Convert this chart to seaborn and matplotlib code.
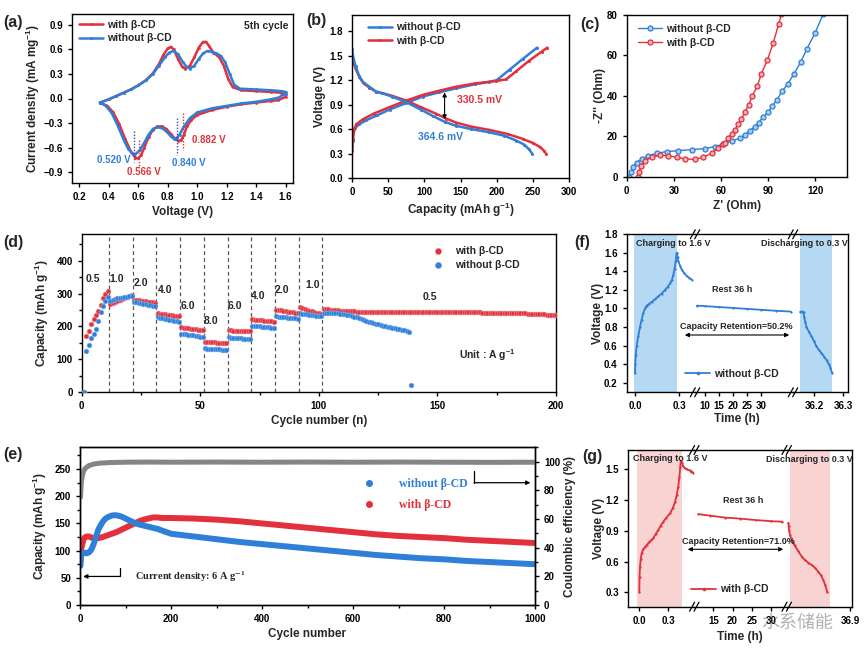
import numpy as np
import pandas as pd
import matplotlib
matplotlib.use("Agg")
import matplotlib.pyplot as plt
import seaborn as sns
from matplotlib.lines import Line2D
from matplotlib.ticker import MultipleLocator

# ------------------------------------------------------------------ data
# (a) CV curves, 5th cycle
cv_with_up_V = [0.34,0.40,0.45,0.50,0.55,0.60,0.65,0.70,0.74,0.77,0.80,0.82,0.84,0.87,0.90,0.92,0.95,0.98,1.01,1.04,1.06,1.08,1.11,1.15,1.18,1.21,1.24,1.30,1.40,1.50,1.57,1.60]
cv_with_up_I = [-0.05,-0.01,0.03,0.07,0.11,0.16,0.22,0.31,0.42,0.53,0.61,0.63,0.60,0.48,0.38,0.365,0.40,0.50,0.62,0.69,0.69,0.64,0.56,0.50,0.40,0.24,0.14,0.10,0.09,0.08,0.07,0.06]
cv_with_dn_V = [1.60,1.55,1.50,1.40,1.30,1.20,1.10,1.00,0.96,0.93,0.91,0.89,0.87,0.85,0.82,0.79,0.76,0.73,0.70,0.67,0.64,0.62,0.60,0.58,0.55,0.51,0.47,0.43,0.39,0.34]
cv_with_dn_I = [0.02,-0.02,-0.03,-0.05,-0.07,-0.10,-0.14,-0.20,-0.26,-0.34,-0.44,-0.51,-0.515,-0.49,-0.43,-0.37,-0.34,-0.34,-0.38,-0.47,-0.60,-0.69,-0.73,-0.72,-0.65,-0.49,-0.31,-0.17,-0.09,-0.05]
cv_wo_up_V = [0.34,0.40,0.45,0.50,0.55,0.60,0.65,0.70,0.74,0.78,0.81,0.84,0.87,0.90,0.93,0.95,0.98,1.01,1.04,1.07,1.10,1.13,1.16,1.19,1.22,1.25,1.29,1.40,1.50,1.57,1.60]
cv_wo_up_I = [-0.05,-0.01,0.03,0.07,0.11,0.16,0.22,0.30,0.40,0.50,0.56,0.58,0.54,0.45,0.38,0.365,0.40,0.48,0.55,0.58,0.57,0.55,0.52,0.44,0.30,0.17,0.12,0.11,0.10,0.09,0.08]
cv_wo_dn_V = [1.60,1.55,1.50,1.40,1.30,1.20,1.10,1.00,0.95,0.91,0.88,0.86,0.84,0.82,0.79,0.76,0.73,0.70,0.67,0.64,0.61,0.58,0.56,0.53,0.50,0.46,0.42,0.38,0.34]
cv_wo_dn_I = [0.06,0.01,-0.01,-0.04,-0.06,-0.09,-0.12,-0.17,-0.24,-0.34,-0.44,-0.485,-0.49,-0.46,-0.40,-0.36,-0.35,-0.37,-0.44,-0.54,-0.63,-0.68,-0.67,-0.61,-0.50,-0.33,-0.18,-0.09,-0.05]
peak_marks_V = [0.569, 0.603, 0.864, 0.905]          # dotted guide positions
peak_marks_top = [-0.40, -0.50, -0.24, -0.18]
peak_marks_bot = [-0.78, -0.85, -0.69, -0.63]
peak_labels = ["0.520 V", "0.566 V", "0.840 V", "0.882 V"]

# (b) charge / discharge
gcd_wo_ch_C = [0,1,2,4,10,20,35,52,75,98,120,144,170,190,200,218,236,256]
gcd_wo_ch_V = [0.33,0.45,0.55,0.61,0.66,0.71,0.77,0.84,0.92,1.00,1.05,1.10,1.15,1.18,1.20,1.33,1.46,1.60]
gcd_w_ch_C = [0,1,3,6,15,30,52,75,98,120,144,170,199,213,227,245,262,270]
gcd_w_ch_V = [0.33,0.48,0.60,0.66,0.72,0.79,0.87,0.95,1.02,1.07,1.12,1.16,1.19,1.21,1.31,1.44,1.55,1.60]
gcd_wo_dc_C = [0,2,5,10,16,24,33,42,55,75,95,112,128,144,165,190,210,227,238,245,249]
gcd_wo_dc_V = [1.58,1.47,1.37,1.25,1.17,1.12,1.06,1.04,1.00,0.93,0.84,0.76,0.69,0.64,0.60,0.56,0.52,0.46,0.41,0.35,0.30]
gcd_w_dc_C = [0,2,5,10,16,24,33,42,55,75,95,116,130,144,165,190,215,236,250,260,266,268]
gcd_w_dc_V = [1.50,1.42,1.34,1.24,1.16,1.11,1.06,1.04,1.01,0.95,0.87,0.79,0.73,0.68,0.63,0.59,0.54,0.48,0.43,0.38,0.33,0.30]

# (c) EIS Nyquist
eis_wo_re = [1.7,2.8,4.2,6.3,9.5,13.8,19.0,25.4,32.8,41.3,49.7,56.1,61.4,66.7,72.0,75.1,78.3,81.5,84.0,86.8,90.0,92.5,95.7,98.8,102.6,106.5,110.7,114.7,120.0,124.9]
eis_wo_im = [0,2.5,5.0,7.0,8.8,10.4,11.6,12.4,12.9,13.4,13.9,14.9,16.2,17.7,19.0,20.7,22.7,24.8,26.8,29.5,32.0,34.8,38.1,42.2,46.0,51.0,56.6,63.3,71.3,80.3]
eis_w_re = [7.0,7.8,9.1,11.6,15.9,21.2,26.5,31.7,37.0,43.4,48.7,54.0,58.2,61.4,62.4,64.6,66.7,68.8,70.9,73.0,75.1,77.7,80.0,83.2,85.7,89.5,93.1,96.7,98.4]
eis_w_im = [0,2.5,5.5,8.0,9.9,10.6,10.4,9.6,8.8,8.6,9.6,11.6,14.1,16.2,16.9,19.0,21.0,23.2,26.0,28.5,31.8,35.6,40.1,45.0,51.0,57.6,65.9,75.4,80.3]

# (d) rate performance (capacity per cycle, mAh/g)
rate_with = ([0] +
    [170,187,207,222,234,248,266,286,299,309] +
    [268,271,274,277,280,283,286,289,292,296] +
    [281,280,279,278,277,276,275,274,273,272] +
    [240,239,238,237,236,235,234,233,232,231] +
    [197,196,195,194,193,192,191,190,189,188] +
    [154,153,153,152,152,151,151,150,150,149] +
    [188,188,187,187,187,186,186,186,185,185] +
    [222,221,220,220,219,218,217,217,216,215] +
    [251,250,249,247,246,245,244,243,242,241] +
    [259,256,253,250,248,246,244,242,240,238] +
    [254,253,252,251,250,249,249,248,248,247,
     247,246,246,246,245,245,245,245,244,244,
     244,244,244,243,243,243,243,243,243,243,
     243,243,243,243,243,243,243,243,243,243,
     243,243,243,243,243,243,243,243,243,243,
     243,243,243,243,243,243,243,243,243,243,
     243,243,243,243,243,243,243,242,242,242,
     242,242,242,242,242,242,242,241,241,241,
     241,241,240,240,240,240,239,239,239,238,
     238,238,237,237,236,236,235,235,234])
rate_without = ([0] +
    [124,144,165,177,193,217,244,262,278,290] +
    [278,281,283,285,287,288,289,290,292,294] +
    [274,273,271,270,268,267,265,264,262,261] +
    [228,227,225,224,223,221,220,218,217,215] +
    [178,177,176,175,174,173,172,171,169,168] +
    [134,133,133,132,132,131,131,130,130,129] +
    [167,166,166,165,164,164,163,162,162,161] +
    [202,201,200,200,199,198,197,197,196,195] +
    [231,230,229,229,228,227,226,226,225,224] +
    [240,239,238,237,236,235,234,233,232,231] +
    [241,241,241,241,240,240,240,239,239,237,
     236,234,232,230,228,226,223,221,218,215,
     213,210,208,206,204,202,200,198,197,196,
     194,192,191,189,188,186,184] +
    [22])
rate_steps = [11.5,21.5,31.5,41.5,51.5,61.5,71.5,81.5,91.5,101.5]
rate_labels = ["0.5","1.0","2.0","4.0","6.0","8.0","6.0","4.0","2.0","1.0","0.5"]
rate_label_x = [4.7,14.8,25,35,44.8,54.6,64.5,74.4,84.3,97.4,146.8]
rate_label_y = [345,345,332,310,261,218,261,293,310,327,289]

# (e) long cycling at 6 A/g
cyc_wo = [1,2,5,10,15,20,25,30,35,40,45,50,55,60,65,70,75,80,85,90,100,110,120,130,140,150,160,170,180,190,200,250,300,350,400,450,500,550,600,650,700,750,800,850,900,950,1000]
cap_wo = [72,90,95,96,95,97,102,112,125,138,146,153,158,161,163,164.5,165,165,164,163,159,155,151,148,146,144,142,140,137,134,131,126,121,116,112,108,104,100,96,92,89,86,84,81,79,77,75]
cyc_w = [1,2,4,6,8,10,15,20,25,30,35,40,45,50,60,70,80,90,100,110,120,130,140,150,160,170,180,190,200,250,300,350,400,450,500,550,600,650,700,750,800,850,900,950,1000]
cap_w = [80,100,108,115,121,124,126,126,124,123,123,123,124,125,128,131,134,138,142,146,150,154,157,159,161,161,160,160,160,159,157,154,150,146,142,138,134,130,127,125,123,120,118,116,114]
cyc_ce = [1,2,3,5,8,12,20,30,45,70,100,150,200,300,400,500,600,700,800,900,1000]
ce_val = [75,81,86,90,93.5,95.5,97.3,98.3,99.0,99.4,99.6,99.7,99.6,99.7,99.6,99.7,99.6,99.7,99.6,99.5,99.6]

# (f) self-discharge, without beta-CD
f_ch_t = [0.0,0.002,0.005,0.011,0.022,0.034,0.045,0.056,0.068,0.079,0.095,0.113,0.135,0.158,0.18,0.203,0.22,0.237,0.25,0.259,0.268,0.275,0.279,0.282]
f_ch_V = [0.30,0.40,0.50,0.59,0.70,0.80,0.88,0.95,1.00,1.03,1.05,1.07,1.10,1.13,1.16,1.20,1.23,1.27,1.31,1.36,1.43,1.51,1.56,1.60]
f_rx_t = [0.282,0.288,0.293,0.305,0.316,0.333,0.35,0.367,0.385]
f_rx_V = [1.60,1.55,1.51,1.46,1.42,1.38,1.35,1.33,1.31]
f_rest_t = [7.1,10,15,20,25,30,35,40.4]
f_rest_V = [1.03,1.025,1.015,1.005,0.995,0.985,0.975,0.966]
f_dc_t = [36.153,36.16,36.164,36.166,36.17,36.174,36.182,36.191,36.2,36.208,36.217,36.225,36.234,36.243,36.25,36.256,36.262]
f_dc_V = [0.966,0.966,0.96,0.91,0.85,0.80,0.75,0.70,0.645,0.59,0.55,0.52,0.48,0.44,0.40,0.36,0.30]

# (g) self-discharge, with beta-CD
g_ch_t = [0.0,0.002,0.007,0.015,0.024,0.04,0.06,0.076,0.1,0.125,0.145,0.17,0.197,0.22,0.248,0.28,0.317,0.345,0.369,0.387,0.403,0.415,0.423,0.428]
g_ch_V = [0.30,0.45,0.55,0.63,0.68,0.72,0.745,0.76,0.79,0.81,0.83,0.87,0.91,0.95,0.99,1.03,1.07,1.12,1.18,1.25,1.33,1.43,1.52,1.57]
g_rx_t = [0.428,0.433,0.44,0.455,0.472,0.495,0.52,0.54,0.559]
g_rx_V = [1.57,1.58,1.56,1.53,1.51,1.50,1.49,1.48,1.47]
g_rest_t = [11.1,14,18,22,26,30,33]
g_rest_V = [1.064,1.05,1.03,1.02,1.006,0.995,0.99]
g_dc_t = [36.489,36.491,36.493,36.5,36.511,36.53,36.556,36.578,36.6,36.622,36.644,36.667,36.689,36.705,36.722,36.735,36.749]
g_dc_V = [0.98,0.95,0.91,0.86,0.81,0.76,0.70,0.65,0.615,0.59,0.567,0.54,0.50,0.47,0.42,0.37,0.30]

# ------------------------------------------------------------------ style
sns.set_theme(style="ticks")
plt.rcParams.update({
    "font.family": ["Liberation Sans", "DejaVu Sans"],
    "font.weight": "bold",
    "axes.labelweight": "bold",
    "axes.labelsize": 8.5,
    "xtick.labelsize": 7,
    "ytick.labelsize": 7,
    "axes.linewidth": 1.0,
    "axes.edgecolor": "black",
    "xtick.color": "black",
    "ytick.color": "black",
    "xtick.major.width": 1.0,
    "ytick.major.width": 1.0,
    "xtick.major.size": 3,
    "ytick.major.size": 3,
    "xtick.minor.size": 2,
    "ytick.minor.size": 2,
    "mathtext.fontset": "custom",
    "mathtext.rm": "Liberation Sans:bold",
    "mathtext.it": "Liberation Sans:bold:italic",
    "mathtext.bf": "Liberation Sans:bold",
    "mathtext.default": "rm",
    "axes.labelpad": 3,
})

RED = "#e2303c"
BLUE = "#2f7ed8"
GRAY = "#858585"
W, H = 865, 661
fig = plt.figure(figsize=(W / 100, H / 100), dpi=100)


def px_ax(l, t, r, b):
    return fig.add_axes([l / W, 1 - b / H, (r - l) / W, (b - t) / H])


def ftext(x, y, s, **kw):
    kw.setdefault("fontsize", 7)
    kw.setdefault("fontweight", "bold")
    kw.setdefault("ha", "center")
    kw.setdefault("va", "center")
    return fig.text(x / W, 1 - y / H, s, **kw)


def line(ax, x, y, color, label=None, **kw):
    d = pd.DataFrame({"x": x, "y": y})
    sns.lineplot(data=d, x="x", y="y", sort=False, estimator=None, color=color,
                 label=label, ax=ax, **kw)


def ylab_at(ax, text, x_px, l_px, w_px):
    ax.set_ylabel(text)
    ax.yaxis.set_label_coords((x_px - l_px) / w_px, 0.5)


# ------------------------------------------------------------------ (a)
ax = px_ax(72, 14, 293, 183)
line(ax, cv_with_up_V + cv_with_dn_V, cv_with_up_I + cv_with_dn_I, RED, "with β-CD",
     lw=1.8, marker="o", markersize=2, markeredgewidth=0)
line(ax, cv_wo_up_V + cv_wo_dn_V, cv_wo_up_I + cv_wo_dn_I, BLUE, "without β-CD",
     lw=1.8, marker="o", markersize=2, markeredgewidth=0)
guide_cols = ["#3a4db5", RED, "#3a4db5", RED]
for xv, y0, y1, c in zip(peak_marks_V, peak_marks_top, peak_marks_bot, guide_cols):
    ax.plot([xv, xv], [y0, y1], ls=(0, (1, 1.2)), lw=1.0, color=c)
lab_pos = [(0.433, -0.75), (0.637, -0.90), (0.943, -0.79), (1.079, -0.50)]
lab_col = [BLUE, RED, BLUE, RED]
for (lx, ly), s, c in zip(lab_pos, peak_labels, lab_col):
    ax.text(lx, ly, s, color=c, fontsize=7, fontweight="bold", ha="center", va="center")
ax.text(0.98, 0.93, "5th cycle", transform=ax.transAxes, ha="right", va="center",
        fontsize=7.5, fontweight="bold")
ax.set_xlim(0.15, 1.65)
ax.set_ylim(-1.03, 1.03)
ax.set_xticks(np.round(np.arange(0.2, 1.61, 0.2), 1))
ax.set_yticks(np.round(np.arange(-0.9, 0.91, 0.3), 1))
ax.set_xlabel("Voltage (V)")
ylab_at(ax, "Current density (mA mg$^{-1}$)", 42, 72, 221)
ax.legend(loc="upper left", bbox_to_anchor=(0.0, 1.01), frameon=False, fontsize=7.5,
          handlelength=2.3, handletextpad=0.4, labelspacing=0.35, borderaxespad=0.3)

# ------------------------------------------------------------------ (b)
ax = px_ax(352, 15, 569, 178)
line(ax, gcd_wo_ch_C, gcd_wo_ch_V, BLUE, "without β-CD", lw=1.8, marker="o",
     markersize=2.2, markeredgewidth=0)
line(ax, gcd_w_ch_C, gcd_w_ch_V, RED, "with β-CD", lw=1.8, marker="o",
     markersize=2.2, markeredgewidth=0)
line(ax, gcd_w_dc_C, gcd_w_dc_V, RED, None, lw=1.8, marker="o", markersize=2.2,
     markeredgewidth=0)
line(ax, gcd_wo_dc_C, gcd_wo_dc_V, BLUE, None, lw=1.8, marker="o", markersize=2.2,
     markeredgewidth=0)
ax.annotate("", xy=(128, 0.72), xytext=(128, 1.05),
            arrowprops=dict(arrowstyle="<|-|>", lw=0.8, color="black",
                            mutation_scale=6, shrinkA=0, shrinkB=0))
ax.text(176, 0.96, "330.5 mV", color=RED, fontsize=7.5, fontweight="bold",
        ha="center", va="center")
ax.text(123, 0.50, "364.6 mV", color=BLUE, fontsize=7.5, fontweight="bold",
        ha="center", va="center")
ax.set_xlim(0, 300)
ax.set_ylim(0, 2.0)
ax.set_xticks(range(0, 301, 50))
ax.set_yticks(np.round(np.arange(0, 1.81, 0.3), 1))
ax.set_xlabel("Capacity (mAh g$^{-1}$)")
ylab_at(ax, "Voltage (V)", 326, 352, 217)
ax.legend(loc="upper left", bbox_to_anchor=(0.04, 1.0), frameon=False, fontsize=7.5,
          handlelength=2.3, handletextpad=0.4, labelspacing=0.35, borderaxespad=0.3)

# ------------------------------------------------------------------ (c)
ax = px_ax(626.7, 15, 846.7, 176.7)
line(ax, eis_wo_re, eis_wo_im, BLUE, "without β-CD", lw=1.0, marker="o",
     markersize=3.6, markerfacecolor="#a9cdf2", markeredgecolor=BLUE,
     markeredgewidth=0.9)
line(ax, eis_w_re, eis_w_im, RED, "with β-CD", lw=1.0, marker="o",
     markersize=3.6, markerfacecolor="#f5b0b5", markeredgecolor=RED,
     markeredgewidth=0.9)
ax.set_xlim(0, 140)
ax.set_ylim(0, 80)
ax.set_xticks(range(0, 121, 30))
ax.set_yticks(range(0, 81, 20))
ax.set_xlabel("Z' (Ohm)")
ylab_at(ax, "-Z'' (Ohm)", 606, 626.7, 220)
ax.legend(loc="upper left", bbox_to_anchor=(0.02, 0.99), frameon=False, fontsize=7.5,
          handlelength=2.3, handletextpad=0.4, labelspacing=0.35, borderaxespad=0.3)

# ------------------------------------------------------------------ (d)
ax = px_ax(81.7, 234.3, 556, 392.3)
for xs in rate_steps:
    ax.axvline(xs, color="#555555", ls=(0, (3, 2.5)), lw=0.9, zorder=1)
cyc_r = np.arange(1, len(rate_with) + 1)
cyc_b = np.arange(1, len(rate_without) + 1)
sns.scatterplot(x=cyc_r, y=rate_with, color=RED, s=12, edgecolor="#f08a8f",
                linewidth=0.4, ax=ax, label="with β-CD", zorder=3)
sns.scatterplot(x=cyc_b, y=rate_without, color=BLUE, s=12, edgecolor="#7fb4ee",
                linewidth=0.4, ax=ax, label="without β-CD", zorder=3)
for s, xv, yv in zip(rate_labels, rate_label_x, rate_label_y):
    ax.text(xv, yv, s, fontsize=7.5, fontweight="bold", ha="center", va="center")
ax.text(171, 114, "Unit : A g$^{-1}$", fontsize=7.5, fontweight="bold",
        ha="center", va="center")
ax.set_xlim(0, 200)
ax.set_ylim(0, 480)
ax.set_xticks([0, 50, 100, 150, 200])
ax.set_yticks([0, 100, 200, 300, 400])
ax.xaxis.set_minor_locator(MultipleLocator(25))
ax.yaxis.set_minor_locator(MultipleLocator(50))
ax.set_xlabel("Cycle number (n)")
ylab_at(ax, "Capacity (mAh g$^{-1}$)", 51, 81.7, 474.3)
ax.legend(loc="upper left", bbox_to_anchor=(0.71, 0.985), frameon=False, fontsize=7.5,
          handletextpad=0.6, labelspacing=0.35, markerscale=1.3)

# ------------------------------------------------------------------ (e)
ax = px_ax(80, 447.3, 535, 605)
ax2 = ax.twinx()
line(ax, cyc_w, cap_w, RED, None, lw=4.3, solid_capstyle="round")
line(ax, cyc_wo, cap_wo, BLUE, None, lw=4.3, solid_capstyle="round")
line(ax2, cyc_ce, ce_val, GRAY, None, lw=3.6, solid_capstyle="round")
ax.set_xlim(0, 1000)
ax.set_ylim(0, 290)
ax2.set_ylim(0, 110)
ax.set_xticks(range(0, 1001, 200))
ax.set_yticks(range(0, 251, 50))
ax2.set_yticks(range(0, 101, 20))
ax.xaxis.set_minor_locator(MultipleLocator(100))
ax.yaxis.set_minor_locator(MultipleLocator(25))
ax2.yaxis.set_minor_locator(MultipleLocator(10))
ax.set_xlabel("Cycle number")
ylab_at(ax, "Capacity (mAh g$^{-1}$)", 49, 80, 455)
ax2.set_ylabel("Coulombic efficiency (%)")
ax.plot([88, 88], [68, 52.5], color="black", lw=0.9)
ax.annotate("", xy=(7, 52.5), xytext=(88, 52.5),
            arrowprops=dict(arrowstyle="-|>", lw=0.9, color="black",
                            mutation_scale=6, shrinkA=0, shrinkB=0))
ax.text(121, 52.5, "Current density: 6 A g$^{-1}$", fontsize=7.5,
        fontfamily="Liberation Serif", fontweight="bold", ha="left", va="center",
        math_fontfamily="stix")
ax2.plot([866, 866], [93.5, 85.3], color="black", lw=0.9)
ax2.annotate("", xy=(990, 85.3), xytext=(866, 85.3),
             arrowprops=dict(arrowstyle="-|>", lw=0.9, color="black",
                             mutation_scale=6, shrinkA=0, shrinkB=0))
leg_h = [Line2D([], [], ls="", marker="o", color=BLUE, markersize=4),
         Line2D([], [], ls="", marker="o", color=RED, markersize=4)]
ax2.legend(handles=leg_h, labels=["without β-CD", "with β-CD"], loc="upper left",
           bbox_to_anchor=(0.585, 0.87), frameon=False, labelcolor=[BLUE, RED],
           prop=dict(family="Liberation Serif", weight="bold", size=8.5),
           handletextpad=1.6, labelspacing=0.7)


# ------------------------------------------------------------------ (f) / (g)
def band_color(c):
    return "#b5d8f3" if c == BLUE else "#f9d2d2"


def broken_panel(seg_px, top, bot, xlims, xticks, xticklabels, ylim, yticks,
                 bands, curves, color, label, leg_xy, ylab_px):
    axs = []
    for i, ((l, r), xl) in enumerate(zip(seg_px, xlims)):
        a = px_ax(l, top, r, bot)
        a.set_facecolor("none")
        a.set_xlim(*xl)
        a.set_ylim(*ylim)
        a.set_xticks(xticks[i])
        a.set_xticklabels(xticklabels[i])
        if i > 0:
            a.spines["left"].set_visible(False)
            a.tick_params(axis="y", left=False, labelleft=False)
        else:
            a.set_yticks(yticks)
        if i < len(seg_px) - 1:
            a.spines["right"].set_visible(False)
        axs.append(a)
    for bi, (x0, x1) in bands:
        axs[bi].axvspan(x0, x1, color=band_color(color), lw=0, zorder=0)
    for si, t, v in curves:
        line(axs[si], t, v, color, None, lw=1.3, marker="o",
             markersize=1.6, markeredgewidth=0)
    for i, a in enumerate(axs):
        a.set_xlabel("")
        a.set_ylabel("")
    l0, r0 = seg_px[0]
    ylab_at(axs[0], "Voltage (V)", ylab_px, l0, r0 - l0)
    # break marks
    for (l, r) in seg_px[:-1]:
        for yy in (top, bot):
            for dx in (-2.2, 2.2):
                fig.add_artist(Line2D([(r + dx - 2.5) / W, (r + dx + 2.5) / W],
                                      [1 - (yy + 4.5) / H, 1 - (yy - 4.5) / H],
                                      color="black", lw=0.9))
    h = [Line2D([], [], color=color, lw=1.3, marker="o", markersize=1.6)]
    fig.legend(handles=h, labels=[label], loc="center left",
               bbox_to_anchor=(leg_xy[0] / W, 1 - leg_xy[1] / H), frameon=False,
               fontsize=7.5, handlelength=2.4, handletextpad=0.4, borderaxespad=0)
    return axs


broken_panel(seg_px=[(626.7, 695), (695, 793), (793, 848.3)], top=234.3, bot=392.3,
             xlims=[(-0.056, 0.406), (6.47, 41.2), (36.128, 36.317)],
             xticks=[[0.0, 0.3], [10, 15, 20, 25, 30], [36.2, 36.3]],
             xticklabels=[["0.0", "0.3"], ["10", "15", "20", "25", "30"], ["36.2", "36.3"]],
             ylim=(0.095, 1.8), yticks=np.round(np.arange(0.2, 1.81, 0.2), 1),
             bands=[(0, (-0.005, 0.282)), (2, (36.153, 36.262))],
             curves=[(0, f_ch_t, f_ch_V), (0, f_rx_t, f_rx_V), (1, f_rest_t, f_rest_V),
                     (2, f_dc_t, f_dc_V)],
             color=BLUE, label="without β-CD", leg_xy=(681, 374), ylab_px=604)
ftext(673, 243.5, "Charging to 1.6 V", fontsize=6.5)
ftext(804, 243.5, "Discharging to 0.3 V", fontsize=6.5)
ftext(731.7, 289.3, "Rest 36 h", fontsize=6.5)
ftext(736.7, 326.5, "Capacity Retention=50.2%", fontsize=6.5)
fig.add_artist(matplotlib.patches.FancyArrowPatch((682 / W, 1 - 335 / H), (792 / W, 1 - 335 / H),
               transform=fig.transFigure, arrowstyle="<|-|>", mutation_scale=6, lw=0.8,
               color="black"))
ftext(737, 419, "Time (h)", fontsize=8.5)

broken_panel(seg_px=[(628.3, 694.3), (694.3, 786.7), (786.7, 851.7)], top=450, bot=606.7,
             xlims=[(-0.114, 0.569), (10.04, 34.1), (36.478, 36.911)],
             xticks=[[0.0, 0.3], [15, 20, 25, 30], [36.9]],
             xticklabels=[["0.0", "0.3"], ["15", "20", "25", "30"], ["36.9"]],
             ylim=(0.16, 1.69), yticks=np.round(np.arange(0.3, 1.51, 0.3), 1),
             bands=[(0, (-0.02, 0.445)), (2, (36.50, 36.767))],
             curves=[(0, g_ch_t, g_ch_V), (0, g_rx_t, g_rx_V), (1, g_rest_t, g_rest_V),
                     (2, g_dc_t, g_dc_V)],
             color=RED, label="with β-CD", leg_xy=(687, 589.3), ylab_px=605)
ftext(670, 458.5, "Charging to 1.6 V", fontsize=6.5)
ftext(809, 459.5, "Discharging to 0.3 V", fontsize=6.5)
ftext(743.3, 500.7, "Rest 36 h", fontsize=6.5)
ftext(738.3, 541.5, "Capacity Retention=71.0%", fontsize=6.5)
fig.add_artist(matplotlib.patches.FancyArrowPatch((685 / W, 1 - 549.3 / H), (786 / W, 1 - 549.3 / H),
               transform=fig.transFigure, arrowstyle="<|-|>", mutation_scale=6, lw=0.8,
               color="black"))
ftext(740, 637, "Time (h)", fontsize=8.5)

# watermark
ftext(797, 623, "水系储能", fontsize=13, fontweight="normal", color="#555555", alpha=0.45,
      family=["Noto Sans CJK SC", "DejaVu Sans"])

# panel letters
for s, x, y in [("(a)", 3, 23), ("(b)", 306, 21), ("(c)", 580, 25), ("(d)", 3, 243),
                ("(f)", 574, 243), ("(e)", 3, 455), ("(g)", 582, 457)]:
    ftext(x, y, s, fontsize=11.5, ha="left")

fig.savefig("out.png", dpi=100)
